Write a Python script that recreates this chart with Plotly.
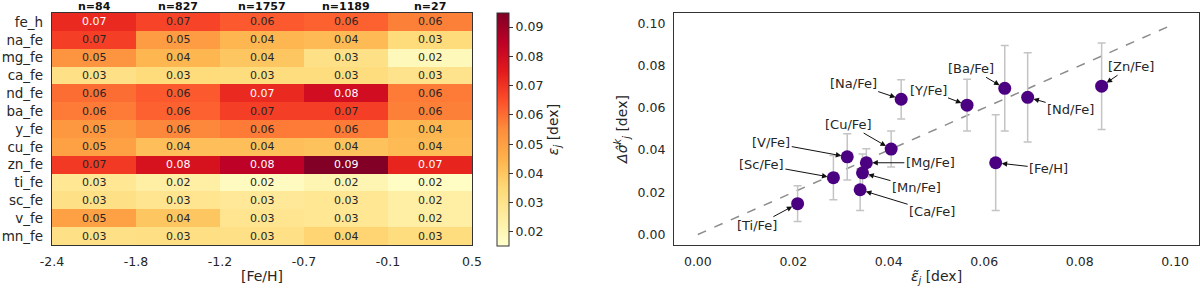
import plotly.graph_objects as go

# ---------------- data ----------------
rows = ["fe_h", "na_fe", "mg_fe", "ca_fe", "nd_fe", "ba_fe", "y_fe",
        "cu_fe", "zn_fe", "ti_fe", "sc_fe", "v_fe", "mn_fe"]
bin_edges = ["-2.4", "-1.8", "-1.2", "-0.7", "-0.1", "0.5"]
bin_counts = ["n=84", "n=827", "n=1757", "n=1189", "n=27"]
eps = [
    [0.072, 0.067, 0.063, 0.062, 0.057],
    [0.068, 0.051, 0.044, 0.043, 0.034],
    [0.053, 0.044, 0.040, 0.031, 0.019],
    [0.031, 0.034, 0.033, 0.033, 0.030],
    [0.060, 0.063, 0.072, 0.080, 0.058],
    [0.058, 0.062, 0.068, 0.068, 0.057],
    [0.052, 0.056, 0.058, 0.058, 0.044],
    [0.050, 0.042, 0.042, 0.041, 0.043],
    [0.069, 0.078, 0.0845, 0.0945, 0.073],
    [0.028, 0.024, 0.018, 0.021, 0.017],
    [0.031, 0.029, 0.027, 0.028, 0.024],
    [0.050, 0.040, 0.029, 0.028, 0.024],
    [0.031, 0.032, 0.031, 0.036, 0.033],
]

elements = ["[Fe/H]", "[Na/Fe]", "[Mg/Fe]", "[Ca/Fe]", "[Nd/Fe]", "[Ba/Fe]", "[Y/Fe]",
            "[Cu/Fe]", "[Zn/Fe]", "[Ti/Fe]", "[Sc/Fe]", "[V/Fe]", "[Mn/Fe]"]
eps_tilde = [0.0624, 0.0426, 0.0353, 0.0340, 0.0691, 0.0643, 0.0564,
             0.0405, 0.0846, 0.0209, 0.0284, 0.0313, 0.0345]
delta_sigma = [0.0340, 0.0641, 0.0340, 0.0212, 0.0650, 0.0693, 0.0613,
               0.0405, 0.0703, 0.0146, 0.0269, 0.0368, 0.0292]
delta_sigma_err = [0.0227, 0.0093, 0.0066, 0.0098, 0.0212, 0.0203, 0.0123,
                   0.0085, 0.0205, 0.0085, 0.0105, 0.0110, 0.0090]
identity_line = [0.0, 0.1]

# ---------------- styling / layout ----------------
FONT = "DejaVu Sans"
TXT = "#262626"
W, H = 1200, 292

def px_x(p):
    return p / W

def px_y(p):
    return 1 - p / H

# label offsets (pixels) for the annotation arrows in right panel
label_offsets = {
    "[Fe/H]": (53, 6), "[Na/Fe]": (-48, -16), "[Mg/Fe]": (64, 0),
    "[Ca/Fe]": (72, 22), "[Nd/Fe]": (43, 12), "[Ba/Fe]": (-34, -20),
    "[Y/Fe]": (-39, -15), "[Cu/Fe]": (-43, -25), "[Zn/Fe]": (29, -20),
    "[Ti/Fe]": (-41, 22), "[Sc/Fe]": (-72, -13), "[V/Fe]": (-76, -14),
    "[Mn/Fe]": (54, 15),
}

ncols = len(bin_counts)
fig = go.Figure()

fig.add_trace(go.Heatmap(
    z=eps, x=list(range(ncols)), y=list(range(len(rows))),
    colorscale="YlOrRd", zmin=0.0152, zmax=0.0948,
    xaxis="x", yaxis="y", hoverinfo="skip",
    colorbar=dict(
        x=px_x(497), xanchor="left", xpad=0,
        y=px_y((13 + 246) / 2), yanchor="middle", ypad=0,
        len=(246 - 13) / H, lenmode="fraction", thickness=12,
        outlinecolor="#333333", outlinewidth=1,
        ticks="outside", ticklen=4, tickcolor="#333333",
        tickvals=[0.02, 0.03, 0.04, 0.05, 0.06, 0.07, 0.08, 0.09],
        tickformat=".2f",
        tickfont=dict(family=FONT, size=12.5, color=TXT),
        title=dict(text="<i>ε<sub>j</sub></i> [dex]", side="right",
                   font=dict(family=FONT, size=14, color=TXT)),
    ),
))

fig.add_trace(go.Scatter(
    x=identity_line, y=identity_line, mode="lines",
    line=dict(color="#8c8c8c", width=1.5, dash="dash"),
    xaxis="x2", yaxis="y2", hoverinfo="skip", showlegend=False,
))

fig.add_trace(go.Scatter(
    x=eps_tilde, y=delta_sigma, mode="markers",
    marker=dict(color="#4b0082", size=13),
    error_y=dict(type="data", array=delta_sigma_err, color="#c4c4c4",
                 thickness=1.5, width=4),
    xaxis="x2", yaxis="y2", showlegend=False,
))

annotations = []
# cell text
for i, row in enumerate(eps):
    for j, v in enumerate(row):
        annotations.append(dict(
            x=j, y=i, xref="x", yref="y", text=f"{v:.2f}", showarrow=False,
            font=dict(family=FONT, size=11, color="white" if v > 0.07 else TXT),
        ))
# column counts
for j, n in enumerate(bin_counts):
    annotations.append(dict(
        x=j, y=px_y(7), xref="x", yref="paper", text=f"<b>{n}</b>",
        showarrow=False, yanchor="middle", borderpad=0,
        font=dict(family=FONT, size=11, color="#111111"),
    ))
# element labels
for el, xv, yv in zip(elements, eps_tilde, delta_sigma):
    ax, ay = label_offsets[el]
    annotations.append(dict(
        x=xv, y=yv, xref="x2", yref="y2", text=el,
        showarrow=True, ax=ax, ay=ay, arrowhead=2, arrowsize=1.1,
        arrowwidth=1, arrowcolor="#111111", standoff=6,
        font=dict(family=FONT, size=13, color=TXT),
    ))

axis_line = dict(showline=True, linecolor="#333333", linewidth=1.25, mirror=True,
                 showgrid=False, zeroline=False, automargin=False,
                 ticks="outside", ticklen=5, tickcolor="rgba(0,0,0,0)")

fig.update_layout(
    width=W, height=H, margin=dict(l=0, r=0, t=0, b=0, autoexpand=False),
    paper_bgcolor="white", plot_bgcolor="white",
    font=dict(family=FONT, color=TXT),
    xaxis=dict(domain=[px_x(52), px_x(472)], range=[-0.5, ncols - 0.5],
               tickvals=[k - 0.5 for k in range(ncols + 1)], ticktext=bin_edges,
               tickfont=dict(family=FONT, size=12.5, color=TXT),
               title=dict(text="[Fe/H]", font=dict(family=FONT, size=14, color=TXT),
                          standoff=3),
               anchor="y", **axis_line),
    yaxis=dict(domain=[px_y(245), px_y(13)], range=[len(rows) - 0.5, -0.5],
               tickvals=list(range(len(rows))), ticktext=rows,
               tickfont=dict(family=FONT, size=13.5, color=TXT),
               anchor="x", **axis_line),
    xaxis2=dict(domain=[px_x(674), px_x(1199)], range=[-0.005, 0.105],
                tickvals=[0, 0.02, 0.04, 0.06, 0.08, 0.10], tickformat=".2f",
                tickfont=dict(family=FONT, size=12.5, color=TXT),
                title=dict(text="<i>ε̃<sub>j</sub></i> [dex]",
                           font=dict(family=FONT, size=14, color=TXT), standoff=3),
                anchor="y2", **axis_line),
    yaxis2=dict(domain=[px_y(245), px_y(13)], range=[-0.005, 0.105],
                tickvals=[0, 0.02, 0.04, 0.06, 0.08, 0.10], tickformat=".2f",
                tickfont=dict(family=FONT, size=12.5, color=TXT),
                title=dict(text="<i>Δσ̂<sup>k</sup><sub>j</sub></i> [dex]",
                           font=dict(family=FONT, size=14, color=TXT), standoff=6),
                anchor="x2", **axis_line),
    annotations=annotations,
)

fig.write_html("out.html", config={"displayModeBar": False},
               post_script="document.body.style.margin='0';document.body.style.overflow='hidden';")
